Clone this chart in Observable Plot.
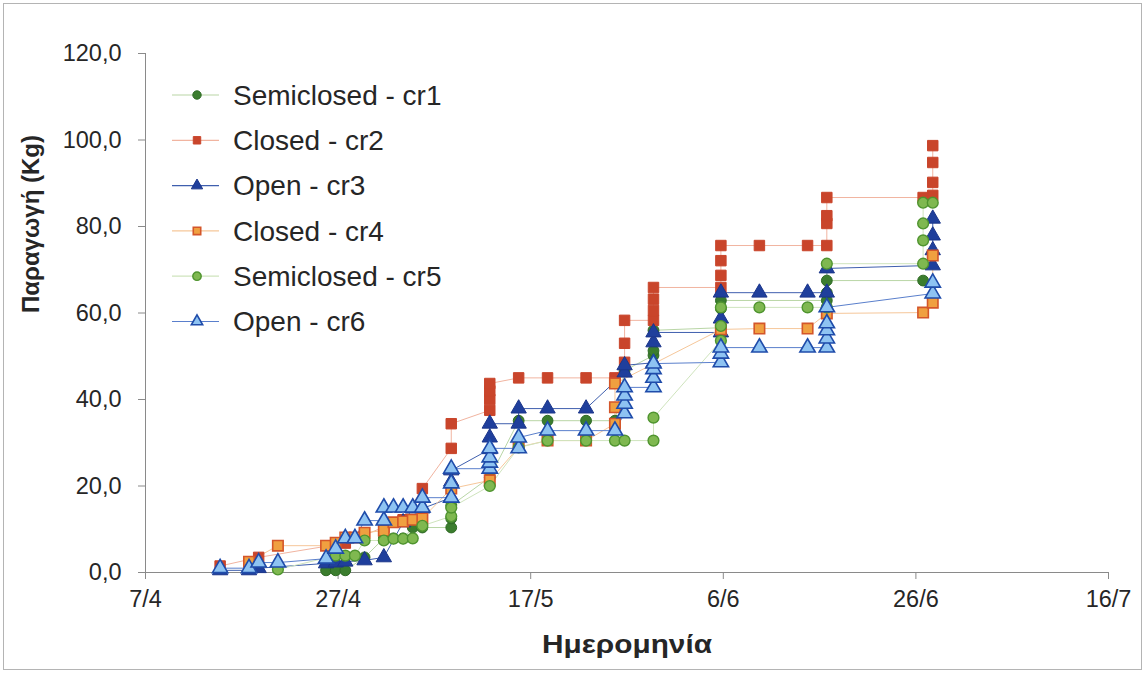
<!DOCTYPE html>
<html><head><meta charset="utf-8">
<script src="https://cdn.jsdelivr.net/npm/d3@7"></script>
<script src="https://cdn.jsdelivr.net/npm/@observablehq/plot@0.6"></script>
<style>
body{margin:0;background:#fff;}
#wrap{position:relative;width:1146px;height:675px;overflow:hidden;background:#fff;}
#frame{position:absolute;left:3px;top:3px;width:1139px;height:667px;border:1px solid #b4b4b4;box-sizing:border-box;pointer-events:none;}
#legend{position:absolute;left:0;top:0;}
</style></head><body>
<div id="wrap"><div id="chart"></div><div id="frame"></div><svg id="legend" width="520" height="360"></svg></div>
<script>
// ---- data (date "MM-DD" of 2009, cumulative production in kg) ----
const year = "2009";
const seriesNames = ["Semiclosed - cr1","Closed - cr2","Open - cr3","Closed - cr4","Semiclosed - cr5","Open - cr6"];
const cr1 = [["04-25",0.5],["04-26",0.5],["04-27",0.5],["04-29",3.5],["05-01",7.9],["05-02",7.9],["05-03",7.9],["05-04",10.4],["05-05",10.4],["05-08",10.4],["05-08",12.5],["05-08",15.5],["05-12",22.0],["05-15",35.1],["05-18",35.1],["05-22",35.1],["05-25",35.1],["05-26",46.7],["05-29",50.2],["05-29",51.3],["05-29",56.0],["06-05",56.6],["06-05",61.0],["06-05",62.9],["06-16",62.9],["06-16",64.7],["06-16",67.5],["06-26",67.5]];
const cr2 = [["04-14",1.5],["04-18",3.5],["04-27",6.8],["05-01",10.5],["05-03",12.2],["05-05",19.4],["05-08",28.7],["05-08",34.4],["05-12",37.5],["05-12",40.0],["05-12",42.0],["05-12",43.7],["05-15",45.0],["05-18",45.0],["05-22",45.0],["05-25",45.0],["05-26",48.6],["05-26",53.0],["05-26",58.3],["05-29",58.3],["05-29",60.6],["05-29",63.2],["05-29",65.9],["06-05",65.9],["06-05",68.7],["06-05",72.1],["06-05",75.6],["06-09",75.6],["06-14",75.6],["06-16",75.6],["06-16",80.7],["06-16",82.5],["06-16",86.7],["06-26",86.7],["06-27",87.2],["06-27",90.2],["06-27",94.8],["06-27",98.7]];
const cr3 = [["04-14",0.5],["04-17",0.5],["04-18",1.0],["04-25",2.1],["04-26",2.3],["04-27",2.5],["04-29",2.8],["05-01",3.5],["05-03",11.6],["05-04",14.8],["05-05",14.8],["05-08",17.3],["05-08",21.0],["05-08",23.6],["05-12",28.5],["05-12",31.2],["05-12",34.4],["05-15",34.4],["05-15",37.9],["05-18",37.9],["05-22",37.9],["05-26",46.2],["05-26",47.9],["05-29",48.5],["05-29",53.2],["05-29",55.5],["06-05",55.5],["06-05",58.7],["06-05",64.7],["06-09",64.7],["06-14",64.7],["06-16",64.7],["06-16",70.3],["06-27",71.0],["06-27",74.5],["06-27",77.9],["06-27",81.8]];
const cr4 = [["04-17",2.5],["04-20",6.2],["04-25",6.2],["04-26",6.9],["04-27",8.1],["04-28",8.1],["04-29",9.2],["05-01",9.7],["05-02",11.6],["05-03",11.8],["05-04",12.2],["05-05",12.5],["05-08",19.4],["05-12",21.3],["05-15",29.0],["05-18",30.5],["05-22",30.5],["05-25",34.4],["05-25",38.2],["05-25",43.7],["06-05",56.2],["06-09",56.4],["06-14",56.4],["06-16",59.9],["06-26",60.1],["06-27",62.4],["06-27",73.3]];
const cr5 = [["04-20",0.7],["04-26",3.9],["04-27",3.9],["04-28",3.9],["04-29",7.4],["05-01",7.4],["05-02",7.8],["05-03",7.8],["05-04",7.9],["05-05",10.8],["05-08",13.0],["05-08",15.0],["05-12",20.0],["05-15",28.9],["05-18",30.5],["05-22",30.5],["05-25",30.5],["05-26",30.5],["05-29",30.5],["05-29",35.8],["06-05",53.6],["06-05",57.0],["06-05",61.3],["06-09",61.3],["06-14",61.3],["06-16",61.3],["06-16",71.4],["06-26",71.4],["06-26",76.8],["06-26",80.7],["06-26",85.5],["06-27",85.5]];
const cr6 = [["04-14",1.0],["04-17",1.0],["04-18",2.3],["04-20",2.3],["04-25",3.2],["04-26",5.5],["04-27",7.9],["04-28",7.9],["04-29",12.0],["05-01",12.0],["05-01",15.0],["05-02",15.0],["05-03",15.0],["05-04",15.0],["05-05",15.0],["05-05",17.3],["05-08",17.3],["05-08",20.6],["05-08",24.0],["05-12",24.0],["05-12",25.4],["05-12",26.6],["05-12",28.7],["05-15",28.7],["05-15",31.2],["05-18",32.8],["05-22",32.8],["05-25",32.8],["05-26",36.8],["05-26",39.0],["05-26",40.9],["05-26",42.8],["05-29",42.8],["05-29",45.0],["05-29",47.0],["05-29",48.3],["06-05",48.6],["06-05",50.6],["06-05",52.0],["06-09",52.0],["06-14",52.0],["06-16",52.0],["06-16",54.1],["06-16",56.0],["06-16",57.6],["06-16",61.3],["06-27",64.5],["06-27",67.0]];
const xTickDates = ["04-07","04-27","05-17","06-06","06-26","07-16"];
const yTicks = [0,20,40,60,80,100,120];
const xTitle = "Ημερομηνία";
const yTitle = "Παραγωγή (Kg)";

// ---- styles ----
const styles = [
  {symbol:"circle",   fill:"#3b7d2e", stroke:"#2e6a24", line:"#b9d6a6", r:5.4, sw:1},
  {symbol:"square",   fill:"#c9452b", stroke:"#c9452b", line:"#f1b4a0", r:5.9, sw:1},
  {symbol:"triangle", fill:"#1f3f9c", stroke:"#1b358a", line:"#3f5fae", r:5.7, sw:1},
  {symbol:"square",   fill:"#f0a040", stroke:"#d4562a", line:"#f6c79a", r:5.9, sw:1.6},
  {symbol:"circle",   fill:"#7fb850", stroke:"#4f942f", line:"#cfe4bd", r:5.4, sw:1.4},
  {symbol:"triangle", fill:"#8ec3f2", stroke:"#1f4caa", line:"#5a7fcc", r:5.7, sw:1.6}
];

const parse = md => new Date(`${year}-${md}T18:00:00Z`);
const allSeries = [cr1,cr2,cr3,cr4,cr5,cr6].map((s,i)=>s.map(([d,v])=>({date:parse(d), value:v, series:seriesNames[i]})));
const fmtDate = d => `${d.getUTCDate()}/${d.getUTCMonth()+1}`;
const fmtY = v => v.toFixed(1).replace(".", ",");
const xDomain = [new Date(`${year}-${xTickDates[0]}T00:00:00Z`), new Date(`${year}-${xTickDates[xTickDates.length-1]}T00:00:00Z`)];

const marks = [];
allSeries.forEach((data,i)=>{
  const s = styles[i];
  marks.push(Plot.line(data,{x:"date",y:"value",stroke:s.line,strokeWidth:1}));
});
allSeries.forEach((data,i)=>{
  const s = styles[i];
  marks.push(Plot.dot(data,{x:"date",y:"value",symbol:()=>s.symbol,r:s.r,fill:s.fill,stroke:s.stroke,strokeWidth:s.sw}));
});

const chart = Plot.plot({
  width:1146, height:675,
  marginLeft:145, marginRight:38, marginTop:53, marginBottom:103,
  style:{fontFamily:"'Liberation Sans', Arial, sans-serif", fontSize:"23px", color:"#262626", background:"#fff"},
  symbol:{type:"identity"},
  x:{type:"utc", domain:xDomain},
  y:{domain:[0,120]},
  marks:[
    Plot.axisY({ticks:yTicks, tickFormat:fmtY, tickSize:7, tickPadding:17, stroke:"#8a8a8a", label:null, fontSize:23.5}),
    Plot.axisX({ticks:xTickDates.map(d=>new Date(`${year}-${d}T00:00:00Z`)), tickFormat:fmtDate, tickSize:7, tickPadding:11, stroke:"#8a8a8a", label:null, fontSize:23.5}),
    Plot.frame({anchor:"left", stroke:"#8a8a8a"}),
    Plot.frame({anchor:"bottom", stroke:"#8a8a8a"}),
    ...marks,
    Plot.text([xTitle],{frameAnchor:"bottom", dy:80, fontWeight:"bold", fontSize:25, fill:"#262626", className:"xtitle"}),
    Plot.text([yTitle],{frameAnchor:"left", dx:-114, rotate:-90, fontWeight:"bold", fontSize:24, fill:"#262626"})
  ]
});
document.getElementById("chart").appendChild(chart);
// widen x title to match the reference's proportions
d3.select(chart).selectAll(".xtitle text").attr("textLength",170).attr("lengthAdjust","spacingAndGlyphs");

// ---- legend ----
const lg = d3.select("#legend");
const lx = 197, ly0 = 95, lstep = 45.3;
seriesNames.forEach((name,i)=>{
  const s = styles[i];
  const y = ly0 + i*lstep;
  const g = lg.append("g").attr("transform",`translate(0,${y})`);
  g.append("line").attr("x1",lx-25).attr("x2",lx+22).attr("y1",0).attr("y2",0).attr("stroke",s.line).attr("stroke-width",1.2);
  const sym = s.symbol==="circle"?d3.symbolCircle:s.symbol==="square"?d3.symbolSquare:d3.symbolTriangle;
  g.append("path").attr("transform",`translate(${lx},0)`).attr("d",d3.symbol(sym, Math.PI*4.2*4.2)())
    .attr("fill",s.fill).attr("stroke",s.stroke).attr("stroke-width",s.sw);
  g.append("text").attr("x",233).attr("y",0).attr("dy","0.35em").text(name)
    .attr("font-family","'Liberation Sans', Arial, sans-serif").attr("font-size",28).attr("fill","#262626");
});
</script>
</body></html>
